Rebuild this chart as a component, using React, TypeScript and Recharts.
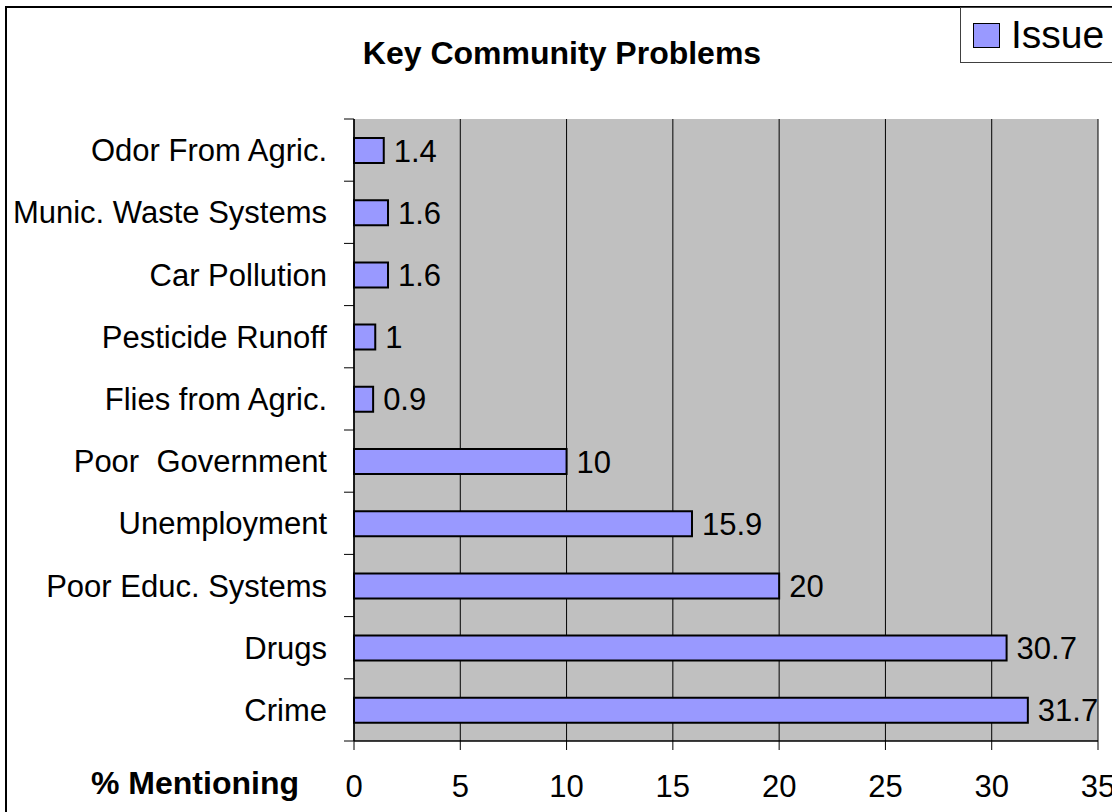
import React from 'react';
import {
    BarChart, Bar, XAxis, YAxis, CartesianGrid, Legend, LabelList
} from 'recharts';

const categories = [
    'Odor From Agric.',
    'Munic. Waste Systems',
    'Car Pollution',
    'Pesticide Runoff',
    'Flies from Agric.',
    'Poor  Government',
    'Unemployment',
    'Poor Educ. Systems',
    'Drugs',
    'Crime',
];
const issueValues = [1.4, 1.6, 1.6, 1, 0.9, 10, 15.9, 20, 30.7, 31.7];
const xTicks = [0, 5, 10, 15, 20, 25, 30, 35];
const seriesName = 'Issue';
const chartTitle = 'Key Community Problems';
const xAxisTitle = '% Mentioning';

const data = categories.map((name, i) => ({ name, issue: issueValues[i] }));

const FONT = 'Arial, "Liberation Sans", sans-serif';

// category label at band centre, tick marks on the band edges (Excel style)
const CategoryTick = (props: any) => {
    const { x, y, payload, index } = props;
    const half = payload?.offset || 31.1;
    const last = index === categories.length - 1;
    return (
        <g>
            <line x1={x - 10} x2={x} y1={y - half} y2={y - half} stroke="#000" strokeWidth={1} />
            {last && <line x1={x - 10} x2={x} y1={y + half} y2={y + half} stroke="#000" strokeWidth={1} />}
            <text
                x={x - 27}
                y={y}
                dy="0.36em"
                textAnchor="end"
                fontSize={31}
                fontFamily={FONT}
                fill="#000"
                style={{ whiteSpace: 'pre' }}
            >
                {payload.value}
            </text>
        </g>
    );
};

const LegendBox = (props: any) => {
    const item = (props.payload || [])[0];
    return (
        <div
            style={{
                width: 200,
                height: 56,
                boxSizing: 'border-box',
                border: '1.5px solid #404040',
                background: '#fff',
                display: 'flex',
                alignItems: 'center',
                paddingLeft: 12,
                fontFamily: FONT,
            }}
        >
            <span
                style={{
                    display: 'inline-block',
                    width: 25,
                    height: 23,
                    background: '#9999FF',
                    border: '1.5px solid #000',
                    marginRight: 11,
                }}
            />
            <span style={{ fontSize: 39, color: '#000', lineHeight: '40px' }}>{item ? item.value : seriesName}</span>
        </div>
    );
};

export default function App() {
    return (
        <div
            style={{
                position: 'absolute',
                left: 0,
                top: 0,
                width: 1112,
                height: 812,
                overflow: 'hidden',
                background: '#fff',
                fontFamily: FONT,
            }}
        >
            <div
                style={{
                    position: 'absolute',
                    left: 5,
                    top: 6,
                    width: 1200,
                    height: 900,
                    border: '2px solid #000',
                    boxSizing: 'border-box',
                }}
            />
            <div
                style={{
                    position: 'absolute',
                    left: 262,
                    top: 35,
                    width: 600,
                    height: 36,
                    lineHeight: '36px',
                    textAlign: 'center',
                    fontSize: 32,
                    fontWeight: 'bold',
                    color: '#000',
                    whiteSpace: 'nowrap',
                }}
            >
                {chartTitle}
            </div>
            <div
                style={{
                    position: 'absolute',
                    left: 45,
                    top: 765,
                    width: 300,
                    height: 36,
                    lineHeight: '36px',
                    textAlign: 'center',
                    fontSize: 32,
                    fontWeight: 'bold',
                    color: '#000',
                    whiteSpace: 'nowrap',
                }}
            >
                {xAxisTitle}
            </div>
            <BarChart
                width={1112}
                height={812}
                data={data}
                layout="vertical"
                margin={{ top: 119, right: 14, bottom: 0, left: 0 }}
                barCategoryGap="60%"
                style={{ position: 'absolute', left: 0, top: 0 }}
            >
                <CartesianGrid horizontal={false} stroke="#000" strokeWidth={1} fill="#C0C0C0" fillOpacity={1} />
                <XAxis
                    type="number"
                    domain={[0, 35]}
                    ticks={xTicks}
                    interval={0}
                    height={71}
                    axisLine={{ stroke: '#000', strokeWidth: 1.5 }}
                    tickLine={{ stroke: '#000' }}
                    tickSize={9}
                    tickMargin={25}
                    tick={{ fontSize: 31, fill: '#000', fontFamily: FONT }}
                />
                <XAxis
                    xAxisId="top"
                    orientation="top"
                    type="number"
                    domain={[0, 35]}
                    height={0}
                    tick={false}
                    tickLine={false}
                    axisLine={{ stroke: '#808080', strokeWidth: 1.5 }}
                />
                <YAxis
                    type="category"
                    dataKey="name"
                    width={354}
                    interval={0}
                    tickSize={0}
                    tickMargin={0}
                    tickLine={false}
                    axisLine={{ stroke: '#000', strokeWidth: 1.5 }}
                    tick={<CategoryTick />}
                />
                <Legend
                    layout="horizontal"
                    verticalAlign="middle"
                    align="center"
                    content={<LegendBox />}
                    wrapperStyle={{ position: 'absolute', left: 960, top: 7, width: 200, height: 56 }}
                />
                <Bar
                    dataKey="issue"
                    name={seriesName}
                    fill="#9999FF"
                    stroke="#000"
                    strokeWidth={2}
                    barSize={25}
                    isAnimationActive={false}
                >
                    <LabelList
                        dataKey="issue"
                        position="right"
                        offset={10}
                        fontSize={31}
                        fontFamily={FONT}
                        fill="#000"
                    />
                </Bar>
            </BarChart>
        </div>
    );
}
